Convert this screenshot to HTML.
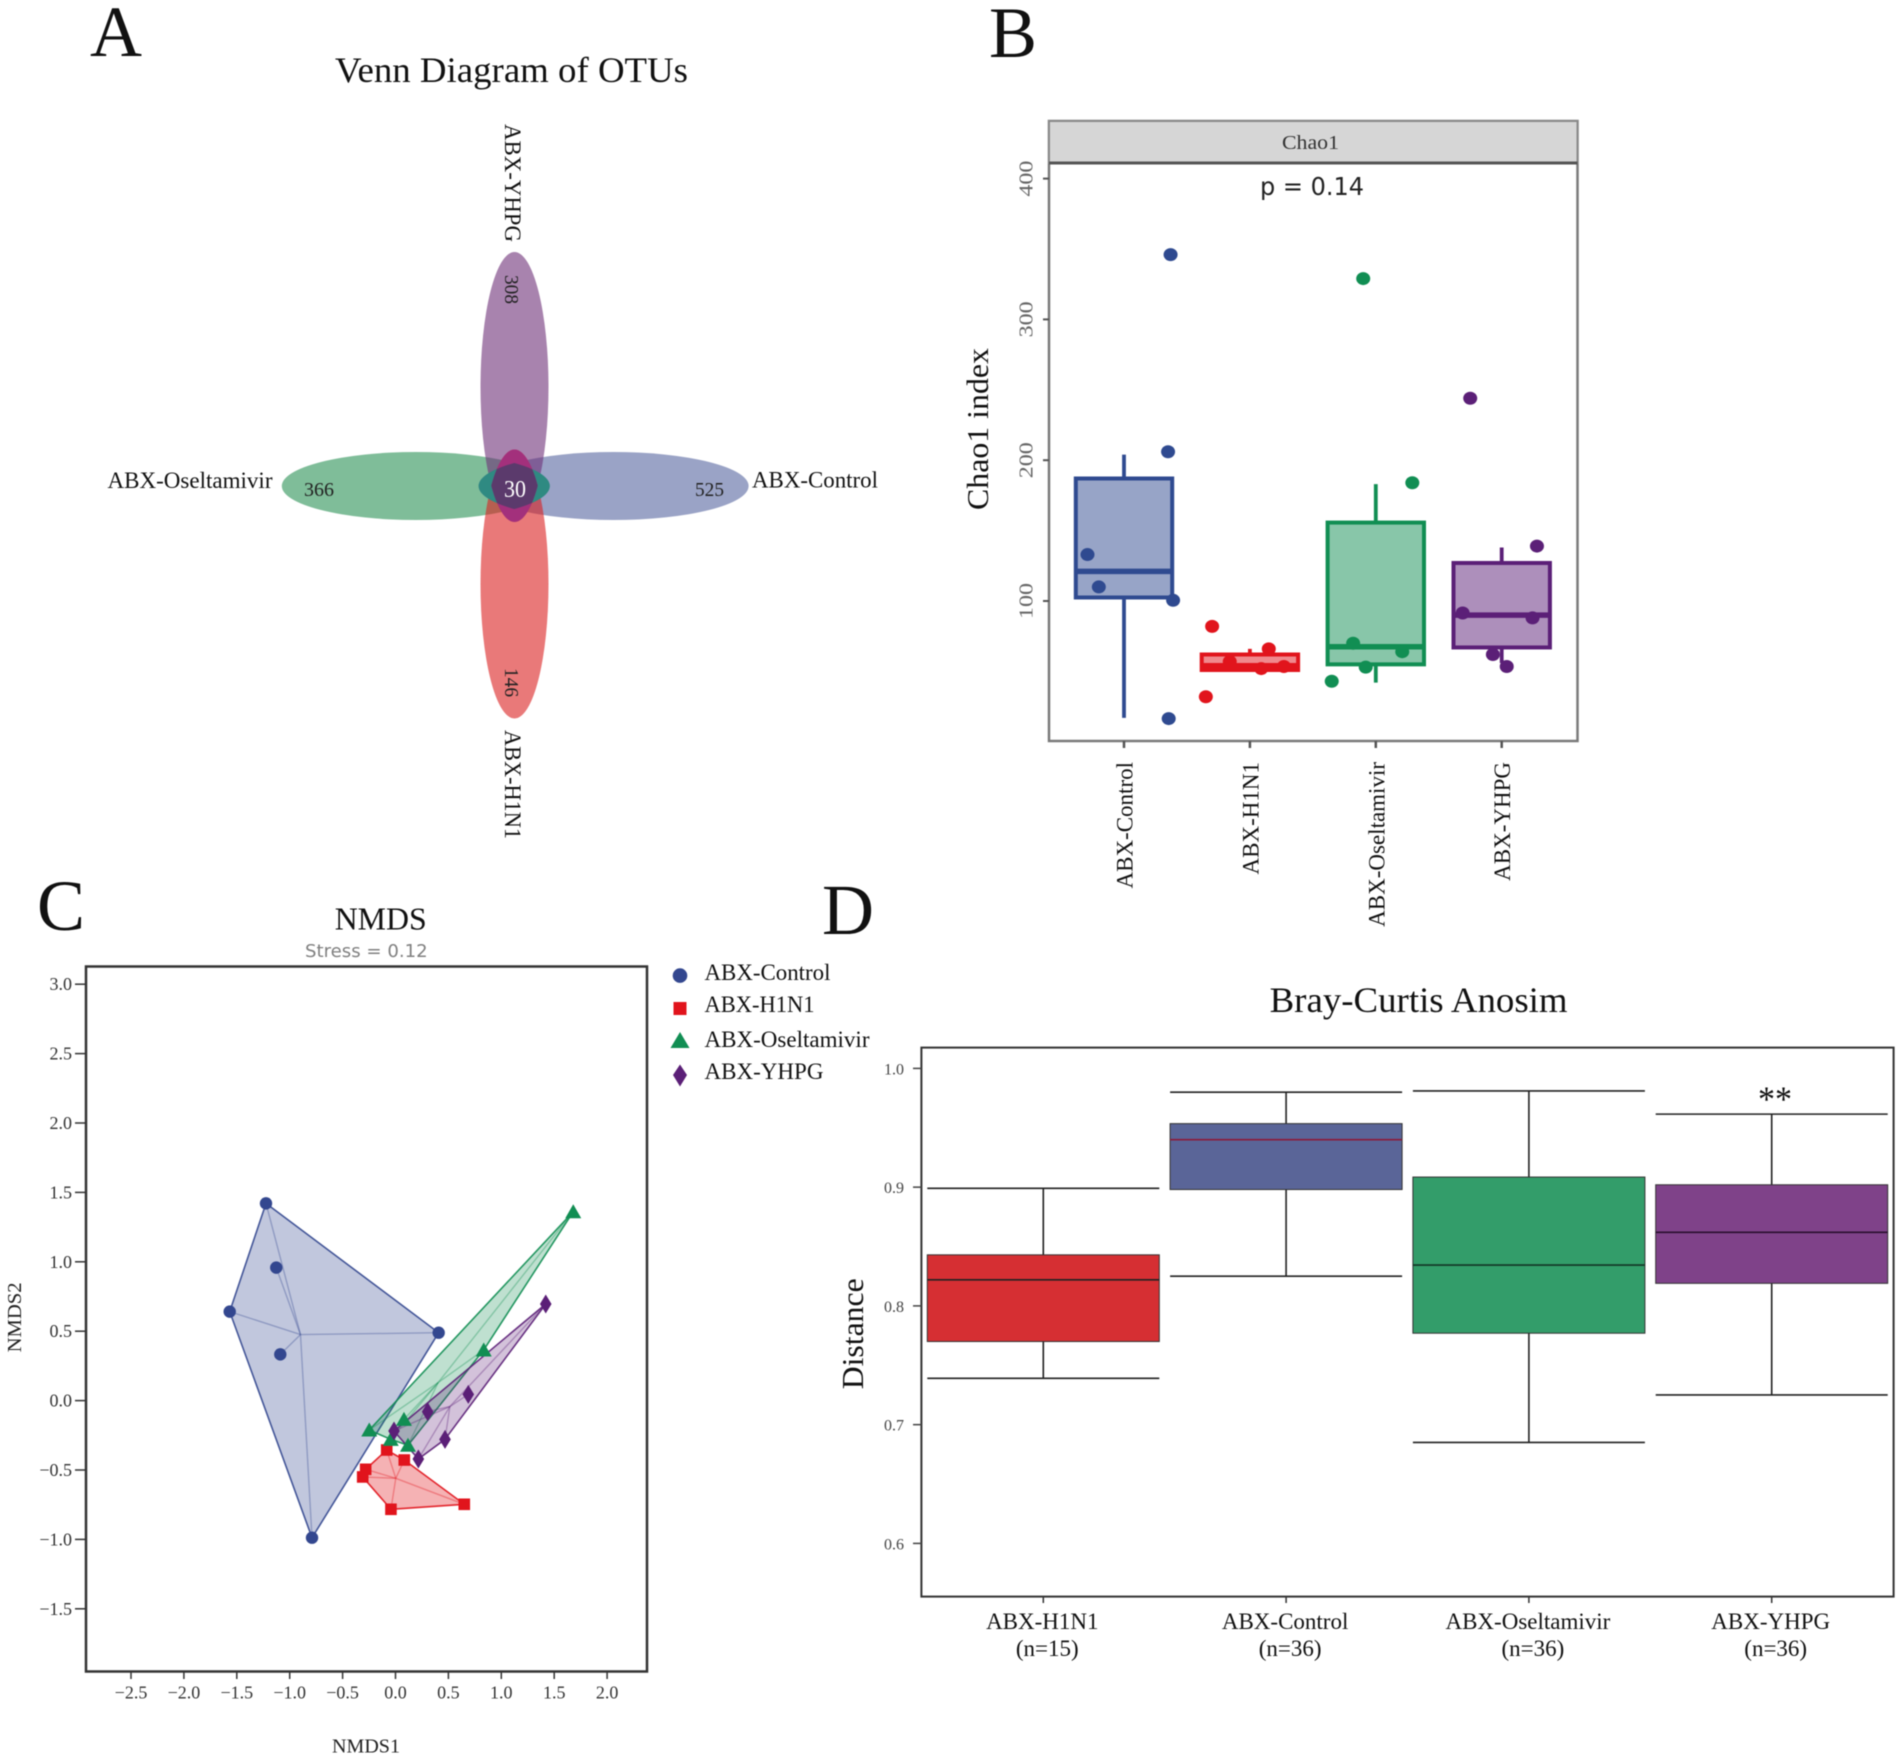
<!DOCTYPE html>
<html lang="en">
<head>
<meta charset="utf-8">
<title>OTU diversity figure</title>
<style>
html,body{margin:0;padding:0;background:#fff;}
svg{display:block;filter:blur(0.45px);}
text{font-family:"Liberation Serif","Times New Roman",serif;fill:#111;}
.sans{font-family:"DejaVu Sans","Liberation Sans",sans-serif;}
</style>
</head>
<body>
<svg id="figure" xmlns="http://www.w3.org/2000/svg" width="1902" height="1760" viewBox="0 0 1902 1760">
<defs>
<clipPath id="clip-yhpg"><ellipse cx="514.5" cy="387" rx="34" ry="135"/></clipPath>
<clipPath id="clip-h1n1"><ellipse cx="514.5" cy="584" rx="34" ry="134.5"/></clipPath>
<clipPath id="clip-control"><ellipse cx="613.6" cy="486" rx="135" ry="34"/></clipPath>
<clipPath id="clip-oseltamivir"><ellipse cx="415.8" cy="486" rx="134" ry="34"/></clipPath>
</defs>
<rect x="0" y="0" width="1902" height="1760" fill="#fff"/>

<text x="90" y="56" font-size="72">A</text>
<text x="989" y="57" font-size="72">B</text>
<text x="37" y="930" font-size="72">C</text>
<text x="822" y="934" font-size="72">D</text>

<g id="venn">
<text x="335" y="82" font-size="36" textLength="353" lengthAdjust="spacingAndGlyphs">Venn Diagram of OTUs</text>
<ellipse cx="415.8" cy="486" rx="134" ry="34" fill="#2A9155" fill-opacity="0.6"/>
<ellipse cx="613.6" cy="486" rx="135" ry="34" fill="#5766A0" fill-opacity="0.6"/>
<ellipse cx="514.5" cy="387" rx="34" ry="135" fill="#6E3078" fill-opacity="0.6"/>
<ellipse cx="514.5" cy="584" rx="34" ry="134.5" fill="#DA2020" fill-opacity="0.6"/>
<g clip-path="url(#clip-control)"><ellipse cx="415.8" cy="486" rx="134" ry="34" fill="#2F8A82"/></g>
<g clip-path="url(#clip-yhpg)"><ellipse cx="514.5" cy="584" rx="34" ry="134.5" fill="#A3307C"/></g>
<g clip-path="url(#clip-yhpg)"><g clip-path="url(#clip-h1n1)"><g clip-path="url(#clip-control)"><ellipse cx="415.8" cy="486" rx="134" ry="34" fill="#5B3A6C"/></g></g></g>
<text x="107.5" y="488" font-size="23" textLength="165" lengthAdjust="spacingAndGlyphs">ABX-Oseltamivir</text>
<text x="752" y="487.5" font-size="23" textLength="126" lengthAdjust="spacingAndGlyphs">ABX-Control</text>
<text transform="translate(505 124) rotate(90)" font-size="23" textLength="118" lengthAdjust="spacingAndGlyphs">ABX-YHPG</text>
<text transform="translate(505 730) rotate(90)" font-size="23" textLength="109" lengthAdjust="spacingAndGlyphs">ABX-H1N1</text>
<text x="304" y="496" font-size="20" style="fill:#222" textLength="30" lengthAdjust="spacingAndGlyphs">366</text>
<text x="695" y="496" font-size="20" style="fill:#222" textLength="29" lengthAdjust="spacingAndGlyphs">525</text>
<text x="504" y="497" font-size="24" style="fill:#fff" textLength="22" lengthAdjust="spacingAndGlyphs">30</text>
<text transform="translate(505 275) rotate(90)" font-size="20" style="fill:#222" textLength="29" lengthAdjust="spacingAndGlyphs">308</text>
<text transform="translate(505 668) rotate(90)" font-size="20" style="fill:#222" textLength="29" lengthAdjust="spacingAndGlyphs">146</text>
</g>

<g id="chao">
<rect x="1049" y="121" width="528.5" height="620" fill="#fff" stroke="#7a7a7a" stroke-width="2.5"/>
<rect x="1049" y="121" width="528.5" height="42" fill="#d6d6d6" stroke="#8a8a8a" stroke-width="2"/>
<line x1="1049" y1="163" x2="1577.5" y2="163" stroke="#555" stroke-width="3"/>
<text x="1282" y="149" font-size="20" style="fill:#333" textLength="57" lengthAdjust="spacingAndGlyphs">Chao1</text>
<text class="sans" x="1260" y="195" font-size="25" style="fill:#222;font-family:'DejaVu Sans',sans-serif" textLength="104" lengthAdjust="spacingAndGlyphs">p = 0.14</text>
<text transform="translate(988 510) rotate(-90)" font-size="31" textLength="162" lengthAdjust="spacingAndGlyphs">Chao1 index</text>
</g>

<g id="nmds">
<text x="334.7" y="929.6" font-size="32" textLength="92" lengthAdjust="spacingAndGlyphs">NMDS</text>
<text x="305" y="957" font-size="18" style="fill:#808080;font-family:'DejaVu Sans',sans-serif" textLength="122.7" lengthAdjust="spacingAndGlyphs">Stress = 0.12</text>
<rect x="86" y="966.5" width="561" height="705" fill="#fff" stroke="#333" stroke-width="2.5"/>
<text x="332" y="1752.5" font-size="20" style="fill:#222" textLength="68" lengthAdjust="spacingAndGlyphs">NMDS1</text>
<text transform="translate(21 1352.4) rotate(-90)" font-size="20" style="fill:#222" textLength="70" lengthAdjust="spacingAndGlyphs">NMDS2</text>
<circle cx="680" cy="975.6" r="7.3" fill="#33478F"/>
<rect x="673.5" y="1002" width="13" height="13" fill="#E1141C"/>
<polygon points="680,1032 689.5,1048 670.5,1048" fill="#118E53"/>
<polygon points="680,1064.5 687,1075 680,1086.5 673,1075" fill="#5B1F77"/>
<text x="704.5" y="980" font-size="23" textLength="126" lengthAdjust="spacingAndGlyphs">ABX-Control</text>
<text x="704.5" y="1012" font-size="23" textLength="110" lengthAdjust="spacingAndGlyphs">ABX-H1N1</text>
<text x="704.5" y="1047" font-size="23" textLength="165" lengthAdjust="spacingAndGlyphs">ABX-Oseltamivir</text>
<text x="704.5" y="1079" font-size="23" textLength="119" lengthAdjust="spacingAndGlyphs">ABX-YHPG</text>
</g>

<g id="anosim">
<text x="1269.6" y="1012" font-size="36" textLength="298" lengthAdjust="spacingAndGlyphs">Bray-Curtis Anosim</text>
<rect x="921.4" y="1047.6" width="972.2" height="549" fill="#fff" stroke="#333" stroke-width="2"/>
<text transform="translate(863 1389.3) rotate(-90)" font-size="31" textLength="111" lengthAdjust="spacingAndGlyphs">Distance</text>
<text x="1758" y="1111" font-size="36" textLength="34" lengthAdjust="spacingAndGlyphs">**</text>
</g>
</svg>

<script>
// ---------- Panel B: Chao1 box plot data ----------
var chaoCategories = ['ABX-Control', 'ABX-H1N1', 'ABX-Oseltamivir', 'ABX-YHPG'];
var chaoColors = ['#2F4A90', '#E1141C', '#118E53', '#5B1F77'];
var chaoWhiskerHigh = [204, 66, 183, 138];
var chaoQ3 = [187, 62, 155.7, 127];
var chaoMedian = [121, 54, 67.5, 90];
var chaoQ1 = [102.5, 51, 55, 67];
var chaoWhiskerLow = [17, 50, 42, 56];
var chaoYTicks = [100, 200, 300, 400];
var chaoControlValues = [346, 206, 133, 110, 100.5, 16.5];
var chaoControlJitter = [0.37, 0.35, -0.29, -0.2, 0.39, 0.355];
var chaoH1N1Values = [82, 66, 57, 52, 53.5, 32];
var chaoH1N1Jitter = [-0.3, 0.15, -0.16, 0.09, 0.27, -0.35];
var chaoOseltamivirValues = [329, 184, 70, 64, 53, 43];
var chaoOseltamivirJitter = [-0.1, 0.29, -0.18, 0.21, -0.08, -0.35];
var chaoYHPGValues = [244, 139, 91.5, 88, 62, 53.5];
var chaoYHPGJitter = [-0.25, 0.28, -0.31, 0.245, -0.07, 0.04];

// ---------- Panel C: NMDS data ----------
var nmdsXTicks = [-2.5, -2.0, -1.5, -1.0, -0.5, 0.0, 0.5, 1.0, 1.5, 2.0];
var nmdsYTicks = [3.0, 2.5, 2.0, 1.5, 1.0, 0.5, 0.0, -0.5, -1.0, -1.5];
var nmdsControlX = [-1.224, -1.127, -1.567, 0.408, -1.089, -0.789];
var nmdsControlY = [1.421, 0.958, 0.641, 0.489, 0.333, -0.988];
var nmdsH1N1X = [-0.083, 0.083, -0.282, -0.31, -0.043, 0.65];
var nmdsH1N1Y = [-0.356, -0.428, -0.495, -0.55, -0.783, -0.747];
var nmdsOseltamivirX = [1.68, 0.834, 0.08, -0.248, -0.045, 0.118];
var nmdsOseltamivirY = [1.361, 0.365, -0.135, -0.212, -0.279, -0.322];
var nmdsYHPGX = [1.42, 0.688, 0.304, -0.014, 0.468, 0.216];
var nmdsYHPGY = [0.696, 0.045, -0.08, -0.219, -0.279, -0.421];

// ---------- Panel D: Anosim box plot data ----------
var anosimCategories = ['ABX-H1N1', 'ABX-Control', 'ABX-Oseltamivir', 'ABX-YHPG'];
var anosimCounts = ['(n=15)', '(n=36)', '(n=36)', '(n=36)'];
var anosimFills = ['#D62F33', '#5A6598', '#339D6A', '#7F4289'];
var anosimMedianColors = ['#222222', '#8B1A3A', '#123524', '#2A1030'];
var anosimWhiskerHigh = [0.899, 0.98, 0.981, 0.9615];
var anosimQ3 = [0.843, 0.9535, 0.9085, 0.902];
var anosimMedian = [0.822, 0.94, 0.8344, 0.862];
var anosimQ1 = [0.77, 0.898, 0.777, 0.819];
var anosimWhiskerLow = [0.739, 0.825, 0.685, 0.725];
var anosimYTicks = [1.0, 0.9, 0.8, 0.7, 0.6];

var SVGNS = 'http://www.w3.org/2000/svg';
function make(parent, tag, attrs, content) {
  var node = document.createElementNS(SVGNS, tag);
  for (var key in attrs) { node.setAttribute(key, attrs[key]); }
  if (content !== undefined) { node.textContent = content; }
  parent.appendChild(node);
  return node;
}

// ---------- Panel B axes ----------
function chaoY(v) { return 601 - (v - 100) * 1.408; }
function chaoX(i) { return 1124 + i * 125.9; }
var chaoBoxHalf = 48.2;
var chaoGroup = document.getElementById('chao');

chaoYTicks.forEach(function (t) {
  var tick = make(chaoGroup, 'line', {x1: 1043, x2: 1049, y1: chaoY(t), y2: chaoY(t), stroke: '#555', 'stroke-width': 2});
  
  
  var label = make(chaoGroup, 'text', {transform: 'translate(1032.5 ' + (chaoY(t) + 18) + ') rotate(-90)', 'font-size': 20, textLength: 36, lengthAdjust: 'spacingAndGlyphs', style: 'fill:#666'}, String(t));
  
  
});

chaoCategories.forEach(function (name, i) {
  var x = chaoX(i);
  var color = chaoColors[i];
  var tick = make(chaoGroup, 'line', {x1: x, x2: x, y1: 741, y2: 748, stroke: '#555', 'stroke-width': 2.5});
  
  
  var label = make(chaoGroup, 'text', {transform: 'translate(' + (x + 8.5) + ' 762) rotate(-90)', 'text-anchor': 'end', 'font-size': 23}, name);
  
  
  var whisker = make(chaoGroup, 'line', {x1: x, x2: x, y1: chaoY(chaoWhiskerHigh[i]), y2: chaoY(chaoWhiskerLow[i]), stroke: color, 'stroke-width': 3.8});
  
  
  var box = make(chaoGroup, 'rect', {x: x - chaoBoxHalf, width: chaoBoxHalf * 2, y: chaoY(chaoQ3[i]), height: chaoY(chaoQ1[i]) - chaoY(chaoQ3[i]), fill: '#fff', stroke: 'none'});
  
  
  var fill = make(chaoGroup, 'rect', {x: x - chaoBoxHalf, width: chaoBoxHalf * 2, y: chaoY(chaoQ3[i]), height: chaoY(chaoQ1[i]) - chaoY(chaoQ3[i]), fill: color, 'fill-opacity': 0.5, stroke: color, 'stroke-width': 4});
  
  
  var median = make(chaoGroup, 'line', {x1: x - chaoBoxHalf, x2: x + chaoBoxHalf, y1: chaoY(chaoMedian[i]), y2: chaoY(chaoMedian[i]), stroke: color, 'stroke-width': 5.5});
  
  
});

function drawChaoPoints(values, jitter, index) {
  values.forEach(function (v, k) {
    var dot = make(chaoGroup, 'ellipse', {cx: chaoX(index + jitter[k]), cy: chaoY(v), rx: 7, ry: 6.5, fill: chaoColors[index]});
    
    
  });
}
drawChaoPoints(chaoControlValues, chaoControlJitter, 0);
drawChaoPoints(chaoH1N1Values, chaoH1N1Jitter, 1);
drawChaoPoints(chaoOseltamivirValues, chaoOseltamivirJitter, 2);
drawChaoPoints(chaoYHPGValues, chaoYHPGJitter, 3);

// ---------- Panel C axes ----------
function nmdsPx(v) { return 395.5 + v * 105.8; }
function nmdsPy(v) { return 1400.6 - v * 138.8; }
var nmdsGroup = document.getElementById('nmds');

nmdsXTicks.forEach(function (t) {
  var tick = make(nmdsGroup, 'line', {x1: nmdsPx(t), x2: nmdsPx(t), y1: 1671.5, y2: 1679, stroke: '#333', 'stroke-width': 1.5});
  
  
  var label = make(nmdsGroup, 'text', {x: nmdsPx(t), y: 1698.6, 'text-anchor': 'middle', 'font-size': 18, style: 'fill:#333'}, t.toFixed(1).replace('-', '\u2212'));
  
  
});
nmdsYTicks.forEach(function (t) {
  var tick = make(nmdsGroup, 'line', {x1: 75, x2: 86, y1: nmdsPy(t), y2: nmdsPy(t), stroke: '#333', 'stroke-width': 1.5});
  
  
  var label = make(nmdsGroup, 'text', {x: 72, y: nmdsPy(t) + 6, 'text-anchor': 'end', 'font-size': 18, style: 'fill:#333'}, t.toFixed(1).replace('-', '\u2212'));
  
  
});

function convexHull(xs, ys) {
  var pts = xs.map(function (x, i) { return [x, ys[i]]; }).sort(function (a, b) { return a[0] - b[0] || a[1] - b[1]; });
  function cross(o, a, b) { return (a[0] - o[0]) * (b[1] - o[1]) - (a[1] - o[1]) * (b[0] - o[0]); }
  var lower = [], upper = [];
  pts.forEach(function (p) {
    while (lower.length >= 2 && cross(lower[lower.length - 2], lower[lower.length - 1], p) <= 0) { lower.pop(); }
    lower.push(p);
  });
  pts.slice().reverse().forEach(function (p) {
    while (upper.length >= 2 && cross(upper[upper.length - 2], upper[upper.length - 1], p) <= 0) { upper.pop(); }
    upper.push(p);
  });
  return lower.slice(0, -1).concat(upper.slice(0, -1));
}

function drawGroup(xs, ys, color, fillOpacity) {
  var hull = convexHull(xs, ys);
  var pointStr = hull.map(function (p) { return nmdsPx(p[0]) + ',' + nmdsPy(p[1]); }).join(' ');
  var poly = make(nmdsGroup, 'polygon', {points: pointStr, fill: color, 'fill-opacity': fillOpacity, stroke: color, 'stroke-width': 1.6, 'stroke-linejoin': 'round', 'stroke-opacity': 0.9});
  
  
  var cx = xs.reduce(function (a, b) { return a + b; }, 0) / xs.length;
  var cy = ys.reduce(function (a, b) { return a + b; }, 0) / ys.length;
  xs.forEach(function (x, i) {
    var spoke = make(nmdsGroup, 'line', {x1: nmdsPx(cx), y1: nmdsPy(cy), x2: nmdsPx(x), y2: nmdsPy(ys[i]), stroke: color, 'stroke-opacity': 0.35, 'stroke-width': 1.4});
    
    
  });
}
function drawCircles(xs, ys, color) {
  xs.forEach(function (x, i) {
    var m = make(nmdsGroup, 'circle', {cx: nmdsPx(x), cy: nmdsPy(ys[i]), r: 6.2, fill: color});
    
    
  });
}
function drawSquares(xs, ys, color) {
  xs.forEach(function (x, i) {
    var m = make(nmdsGroup, 'rect', {x: nmdsPx(x) - 5.8, y: nmdsPy(ys[i]) - 5.8, width: 11.6, height: 11.6, fill: color});
    
    
  });
}
function drawTriangles(xs, ys, color) {
  xs.forEach(function (x, i) {
    var px = nmdsPx(x), py = nmdsPy(ys[i]);
    var m = make(nmdsGroup, 'polygon', {points: px + ',' + (py - 7.5) + ' ' + (px + 8) + ',' + (py + 6.5) + ' ' + (px - 8) + ',' + (py + 6.5), fill: color});
    
    
  });
}
function drawDiamonds(xs, ys, color) {
  xs.forEach(function (x, i) {
    var px = nmdsPx(x), py = nmdsPy(ys[i]);
    var m = make(nmdsGroup, 'polygon', {points: px + ',' + (py - 9.5) + ' ' + (px + 5.8) + ',' + py + ' ' + px + ',' + (py + 9.5) + ' ' + (px - 5.8) + ',' + py, fill: color});
    
    
  });
}
drawGroup(nmdsControlX, nmdsControlY, '#33478F', 0.3);
drawGroup(nmdsH1N1X, nmdsH1N1Y, '#E1141C', 0.33);
drawGroup(nmdsOseltamivirX, nmdsOseltamivirY, '#118E53', 0.27);
drawGroup(nmdsYHPGX, nmdsYHPGY, '#5B1F77', 0.27);
drawCircles(nmdsControlX, nmdsControlY, '#33478F');
drawSquares(nmdsH1N1X, nmdsH1N1Y, '#E1141C');
drawTriangles(nmdsOseltamivirX, nmdsOseltamivirY, '#118E53');
drawDiamonds(nmdsYHPGX, nmdsYHPGY, '#5B1F77');

// ---------- Panel D axes ----------
function anosimY(v) { return 1305.9 - (v - 0.8) * 1187.5; }
function anosimX(i) { return 1043.3 + i * 242.8; }
var anosimHalf = 116;
var anosimGroup = document.getElementById('anosim');

anosimYTicks.forEach(function (t) {
  var tick = make(anosimGroup, 'line', {x1: 913, x2: 921.4, y1: anosimY(t), y2: anosimY(t), stroke: '#444', 'stroke-width': 1.5});
  
  
  var label = make(anosimGroup, 'text', {x: 904, y: anosimY(t) + 6, 'text-anchor': 'end', 'font-size': 16, style: 'fill:#444'}, t.toFixed(1));
  
  
});

anosimCategories.forEach(function (name, i) {
  var x = anosimX(i);
  var tick = make(anosimGroup, 'line', {x1: x, x2: x, y1: 1596.5, y2: 1603, stroke: '#333', 'stroke-width': 1.5});
  
  
  var label = make(anosimGroup, 'text', {x: x - 1, y: 1628.8, 'text-anchor': 'middle', 'font-size': 23}, name);
  
  
  var count = make(anosimGroup, 'text', {x: x + 4, y: 1656, 'text-anchor': 'middle', 'font-size': 23}, anosimCounts[i]);
  
  
  var stem = make(anosimGroup, 'line', {x1: x, x2: x, y1: anosimY(anosimWhiskerHigh[i]), y2: anosimY(anosimWhiskerLow[i]), stroke: '#222', 'stroke-width': 1.6});
  
  
  var capHigh = make(anosimGroup, 'line', {x1: x - anosimHalf, x2: x + anosimHalf, y1: anosimY(anosimWhiskerHigh[i]), y2: anosimY(anosimWhiskerHigh[i]), stroke: '#222', 'stroke-width': 1.6});
  
  
  var capLow = make(anosimGroup, 'line', {x1: x - anosimHalf, x2: x + anosimHalf, y1: anosimY(anosimWhiskerLow[i]), y2: anosimY(anosimWhiskerLow[i]), stroke: '#222', 'stroke-width': 1.6});
  
  
  var box = make(anosimGroup, 'rect', {x: x - anosimHalf, width: anosimHalf * 2, y: anosimY(anosimQ3[i]), height: anosimY(anosimQ1[i]) - anosimY(anosimQ3[i]), fill: anosimFills[i], stroke: '#333', 'stroke-width': 1});
  
  
  var median = make(anosimGroup, 'line', {x1: x - anosimHalf, x2: x + anosimHalf, y1: anosimY(anosimMedian[i]), y2: anosimY(anosimMedian[i]), stroke: anosimMedianColors[i], 'stroke-width': 1.6});
  
  
});
</script>
</body>
</html>
